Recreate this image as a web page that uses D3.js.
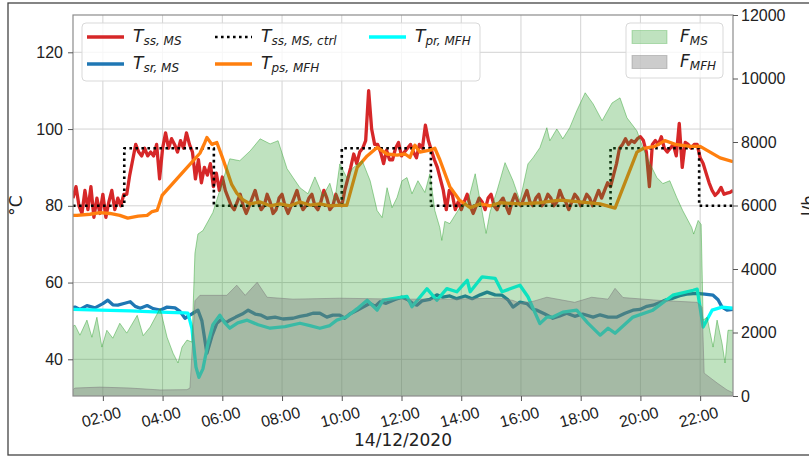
<!DOCTYPE html>
<html>
<head>
<meta charset="utf-8">
<script src="https://cdn.jsdelivr.net/npm/d3@7"></script>
<style>
  body { margin: 0; background: #fff; }
  svg { font-family: "DejaVu Sans", sans-serif; }
</style>
</head>
<body>
<div id="viz"></div>
<script>
// ---- data ----
const day = "2020-12-14";

// T_ss,MS : logged every 6 minutes from 01:00
const tssStart = "01:00";
const tssStepMin = 6;
const tssValues = [
  82, 85, 80, 78, 84, 79, 85, 77, 82, 78,
  83, 77, 81, 84, 79, 82, 80, 83, 83, 88,
  92, 96, 94, 93, 95, 93, 94, 93, 96, 87,
  95, 99, 95, 97.5, 96, 94, 97, 95, 99, 96,
  94, 87, 92, 86, 90, 88, 91, 85, 88.5, 84,
  87.5, 84, 82, 80, 79, 81, 83, 80, 78, 80,
  82, 84, 81, 79, 80, 83, 81, 78, 79, 82,
  83, 80, 78, 80, 82, 84, 81, 79, 80, 82,
  83, 80, 79, 81, 84, 82, 79, 80, 83, 81,
  80, 84, 87, 90, 93.5, 91, 94, 95, 97, 110,
  100, 96, 96, 94, 91, 94.5, 92, 92, 95, 96.5,
  93, 94, 95, 96, 94, 92.5, 96, 95, 101, 97,
  94.5, 92, 90, 87, 84, 79, 84, 83, 79, 81,
  79, 81, 83, 80, 78, 80, 82, 81, 79, 82,
  83, 80, 79, 81, 82, 80, 78, 81, 83, 81,
  80, 82, 84, 81, 80, 82, 83, 80, 81, 83,
  82, 80, 81, 84, 82, 81, 79, 81, 83, 82,
  80, 81, 83, 82, 80, 82, 84, 82, 84, 86,
  85, 88, 91, 95, 96, 97.5, 96, 97, 96.5, 97.5,
  98, 97, 94, 85, 96, 97, 96, 98, 95, 94,
  95, 96, 93, 101.5, 90, 96.5, 96, 95, 96, 96,
  92.5, 91, 88.5, 86, 84, 82.7, 83.5, 84.8, 83, 83.3,
  83.5, 84
];

// T_sr,MS
const tsrData = [
  ["01:00", 53.5], ["01:04", 53.6], ["01:14", 53.0], ["01:28", 54.0], ["01:44", 53.4],
  ["02:00", 54.5], ["02:10", 55.4], ["02:20", 54.2], ["02:30", 54.1], ["02:44", 54.6],
  ["02:55", 55.0], ["03:05", 53.8], ["03:15", 53.3], ["03:29", 54.0], ["03:41", 53.2],
  ["03:55", 52.8], ["04:09", 53.6], ["04:25", 53.4], ["04:35", 52.5], ["04:45", 50.7],
  ["04:55", 51.5], ["05:01", 52.0], ["05:11", 52.8], ["05:19", 50.0], ["05:29", 41.6],
  ["05:39", 46.0], ["05:49", 49.4], ["05:59", 50.5], ["06:07", 49.5], ["06:15", 50.2],
  ["06:27", 51.0], ["06:40", 51.8], ["06:52", 52.8], ["07:06", 51.8], ["07:18", 51.5],
  ["07:30", 50.7], ["07:46", 51.0], ["08:02", 50.5], ["08:22", 50.7], ["08:36", 51.2],
  ["08:50", 51.5], ["09:02", 52.0], ["09:16", 52.0], ["09:30", 51.0], ["09:42", 51.5],
  ["09:56", 51.5], ["10:06", 50.7], ["10:16", 51.8], ["10:31", 52.8], ["10:41", 53.5],
  ["10:57", 54.6], ["11:07", 53.8], ["11:17", 55.0], ["11:29", 54.6], ["11:47", 55.6],
  ["12:01", 56.2], ["12:13", 55.5], ["12:23", 54.5], ["12:31", 54.1], ["12:41", 55.2],
  ["12:57", 55.6], ["13:11", 56.8], ["13:23", 56.2], ["13:37", 56.5], ["13:51", 55.8],
  ["14:08", 56.5], ["14:22", 55.8], ["14:38", 56.8], ["14:52", 57.5], ["15:08", 56.8],
  ["15:22", 56.7], ["15:34", 55.5], ["15:44", 53.6], ["15:58", 54.9], ["16:12", 54.5],
  ["16:24", 53.0], ["16:32", 52.8], ["16:48", 51.8], ["17:04", 50.7], ["17:18", 51.3],
  ["17:32", 52.0], ["17:48", 51.2], ["18:04", 51.8], ["18:25", 51.0], ["18:39", 51.6],
  ["18:55", 51.0], ["19:13", 51.0], ["19:29", 52.0], ["19:45", 52.8], ["19:59", 53.0],
  ["20:13", 53.8], ["20:25", 54.1], ["20:39", 54.8], ["20:52", 55.5], ["21:05", 55.9],
  ["21:19", 56.6], ["21:33", 57.0], ["21:53", 57.2], ["22:09", 57.0], ["22:26", 56.7],
  ["22:36", 55.5], ["22:44", 53.6], ["22:54", 52.8], ["23:06", 53.0]
];

// T_ss,MS,ctrl (set point, steps)
const ctrlData = [
  ["01:00", 80], ["02:43", 95], ["05:43", 80], ["10:00", 95],
  ["12:59", 80], ["19:00", 95], ["21:58", 80], ["23:06", 80]
];

// T_ps,MFH
const tpsData = [
  ["01:00", 77.5], ["01:08", 77.5], ["01:34", 77.8], ["01:54", 78.2], ["02:14", 78.0],
  ["02:34", 77.5], ["02:50", 76.8], ["03:11", 77.3], ["03:29", 77.5], ["03:39", 78.5],
  ["03:49", 78.8], ["03:59", 82.7], ["04:39", 88.5], ["05:15", 93.7], ["05:25", 96.5],
  ["05:29", 97.8], ["05:39", 96.0], ["05:49", 96.5], ["05:59", 93.0], ["06:09", 89.3],
  ["06:19", 85.5], ["06:29", 83.3], ["06:42", 81.5], ["06:56", 80.5], ["07:16", 81.0],
  ["07:36", 80.0], ["07:56", 80.5], ["08:16", 80.0], ["08:36", 81.0], ["08:56", 80.2],
  ["09:16", 80.5], ["09:36", 80.0], ["09:56", 80.2], ["10:10", 80.1], ["10:31", 90.0],
  ["10:51", 93.0], ["11:11", 95.2], ["11:31", 93.5], ["11:51", 93.2], ["12:07", 93.5],
  ["12:17", 92.6], ["12:27", 95.8], ["12:37", 94.0], ["12:57", 94.5], ["13:07", 95.0],
  ["13:17", 92.0], ["13:37", 85.0], ["13:57", 81.4], ["14:18", 79.5], ["14:38", 80.5],
  ["14:58", 80.0], ["15:18", 80.8], ["15:58", 80.5], ["16:38", 80.8], ["17:18", 81.5],
  ["17:58", 81.0], ["18:39", 80.5], ["19:09", 79.4], ["19:53", 94.0], ["20:05", 94.9],
  ["20:29", 95.5], ["20:49", 97.0], ["21:10", 96.0], ["21:40", 95.5], ["22:00", 95.5],
  ["22:20", 94.0], ["22:40", 92.5], ["23:06", 91.5]
];

// T_pr,MFH
const tprData = [
  ["01:00", 53.0], ["01:54", 52.8], ["02:55", 52.6], ["03:55", 52.3], ["04:45", 52.1],
  ["04:51", 52.0], ["04:59", 48.0], ["05:07", 38.0], ["05:13", 35.3], ["05:21", 37.5],
  ["05:31", 44.0], ["05:41", 49.0], ["05:55", 51.5], ["06:05", 49.5], ["06:15", 48.1],
  ["06:31", 49.5], ["06:50", 50.2], ["07:12", 49.0], ["07:36", 48.1], ["08:06", 48.5],
  ["08:36", 49.4], ["08:56", 48.8], ["09:16", 48.1], ["09:36", 48.8], ["09:50", 50.2],
  ["10:10", 51.1], ["10:31", 53.2], ["10:51", 55.4], ["11:11", 52.8], ["11:23", 55.4],
  ["12:11", 56.4], ["12:21", 53.7], ["12:51", 58.4], ["13:11", 55.4], ["13:31", 58.4],
  ["13:51", 57.6], ["14:12", 60.6], ["14:18", 57.6], ["14:42", 61.5], ["15:08", 61.1],
  ["15:22", 57.6], ["15:58", 59.3], ["16:14", 56.3], ["16:38", 49.3], ["16:52", 51.0],
  ["17:04", 51.0], ["17:24", 52.3], ["17:52", 52.8], ["18:14", 49.5], ["18:39", 46.3],
  ["18:55", 48.1], ["19:09", 46.8], ["19:45", 51.0], ["20:25", 52.8], ["21:05", 56.7],
  ["21:46", 58.0], ["21:54", 58.3], ["22:06", 48.4], ["22:24", 52.8], ["22:44", 53.6],
  ["23:06", 53.3]
];

// F_MS (l/h)
const fmsData = [
  ["01:00", 2200], ["01:04", 2230], ["01:14", 1915], ["01:28", 2390], ["01:38", 1850],
  ["01:48", 2480], ["01:58", 1540], ["02:08", 2070], ["02:20", 1820], ["02:34", 2290],
  ["02:48", 1980], ["03:09", 2540], ["03:21", 1900], ["03:35", 2170], ["03:55", 2760],
  ["04:09", 1850], ["04:21", 1350], ["04:31", 1040], ["04:39", 1540], ["04:49", 1760],
  ["04:59", 1700], ["05:05", 4500], ["05:11", 5100], ["05:21", 5210], ["05:41", 5780],
  ["06:01", 6780], ["06:15", 7470], ["06:35", 7410], ["06:56", 7720], ["07:16", 8100],
  ["07:36", 7940], ["07:52", 8040], ["08:10", 7160], ["08:22", 6880], ["08:36", 6560],
  ["08:52", 6370], ["09:06", 6900], ["09:22", 6300], ["09:36", 6700], ["09:46", 6150],
  ["09:56", 7310], ["10:10", 6880], ["10:23", 7190], ["10:41", 7410], ["10:57", 6780],
  ["11:11", 5840], ["11:21", 5620], ["11:31", 6560], ["11:41", 5930], ["11:51", 6250],
  ["12:01", 6780], ["12:11", 6880], ["12:21", 6370], ["12:33", 6780], ["12:47", 6410],
  ["12:57", 7000], ["13:07", 5840], ["13:17", 5300], ["13:21", 4900], ["13:27", 5500],
  ["13:37", 5430], ["13:57", 5930], ["14:14", 6150], ["14:28", 7000], ["14:38", 6150],
  ["14:50", 5120], ["14:58", 5800], ["15:12", 6470], ["15:28", 7350], ["15:44", 6780],
  ["15:58", 6150], ["16:14", 7310], ["16:24", 7500], ["16:38", 7820], ["16:52", 8450],
  ["16:58", 8040], ["17:12", 8410], ["17:18", 8260], ["17:24", 8100], ["17:38", 8450],
  ["17:52", 8980], ["18:09", 9550], ["18:25", 9200], ["18:43", 8670], ["19:03", 9230],
  ["19:19", 9390], ["19:33", 8760], ["19:53", 8350], ["20:05", 7820], ["20:19", 7320],
  ["20:33", 6880], ["20:45", 6690], ["20:59", 6780], ["21:13", 6250], ["21:25", 5840],
  ["21:43", 5310], ["21:47", 5100], ["21:56", 5530], ["22:02", 5400], ["22:06", 2390],
  ["22:14", 2480], ["22:20", 2000], ["22:26", 1540], ["22:34", 2390], ["22:44", 1660],
  ["22:50", 1040], ["22:56", 2070], ["23:06", 2070]
];

// F_MFH (l/h)
const fmfhData = [
  ["01:00", 200], ["01:04", 250], ["01:54", 280], ["02:55", 250], ["03:55", 190],
  ["04:49", 200], ["04:55", 250], ["05:05", 3000], ["05:15", 3170], ["06:09", 3170],
  ["06:29", 3490], ["06:46", 3170], ["07:10", 3580], ["07:30", 3110], ["08:22", 3050],
  ["09:56", 3080], ["11:57", 3050], ["13:37", 3050], ["15:18", 3080], ["15:44", 3010],
  ["15:58", 2920], ["16:24", 2980], ["16:52", 3110], ["17:48", 2950], ["18:22", 3110],
  ["18:55", 3050], ["19:09", 3390], ["19:25", 3100], ["20:39", 3010], ["21:54", 2950],
  ["22:04", 2790], ["22:08", 720], ["22:34", 410], ["22:54", 190], ["23:06", 100]
];

const xTicks = ["02:00", "04:00", "06:00", "08:00", "10:00", "12:00",
                "14:00", "16:00", "18:00", "20:00", "22:00"];
const tempTicks = [40, 60, 80, 100, 120];
const flowTicks = [0, 2000, 4000, 6000, 8000, 10000, 12000];
const xDomain = ["01:00", "23:06"];
const tempDomain = [30.44, 129.72];
const flowDomain = [0, 12000];

// ---- chart ----
const W = 809, H = 458;
const margin = {top: 15, right: 76, bottom: 62, left: 73},
  width = W - margin.left - margin.right,
  height = H - margin.top - margin.bottom;

const parseTime = d3.timeParse("%Y-%m-%d %H:%M");
const t = s => parseTime(day + " " + s);

const tssStartDate = t(tssStart);
const tssData = tssValues.map((v, i) => [d3.timeMinute.offset(tssStartDate, i * tssStepMin), v]);
const asDates = arr => arr.map(d => [t(d[0]), d[1]]);

const svg = d3.select("#viz").append("svg")
  .attr("width", W).attr("height", H);

// outer frame of the picture
svg.append("rect")
  .attr("x", 8).attr("y", 3).attr("width", 900).attr("height", 452)
  .attr("fill", "none").attr("stroke", "#444").attr("stroke-width", 1.3);

const g = svg.append("g").attr("transform", `translate(${margin.left},${margin.top})`);

g.append("clipPath").attr("id", "clip")
  .append("rect").attr("width", width).attr("height", height);

const x = d3.scaleTime().domain(xDomain.map(t)).range([0, width]);
const yL = d3.scaleLinear().domain(tempDomain).range([height, 0]);
const yR = d3.scaleLinear().domain(flowDomain).range([height, 0]);

// grid
const grid = g.append("g").attr("stroke", "#d3d3d3").attr("stroke-width", 1);
grid.selectAll("line.v").data(xTicks).enter().append("line")
  .attr("x1", d => x(t(d))).attr("x2", d => x(t(d)))
  .attr("y1", 0).attr("y2", height);
grid.selectAll("line.h").data(tempTicks).enter().append("line")
  .attr("x1", 0).attr("x2", width)
  .attr("y1", d => yL(d)).attr("y2", d => yL(d));

// temperature lines
const plot = g.append("g").attr("clip-path", "url(#clip)");
const line = d3.line().x(d => x(d[0])).y(d => yL(d[1]));

const series = [
  {data: tssData, color: "#d62728", width: 3.3, dash: null},
  {data: asDates(tsrData), color: "#1f77b4", width: 3.3, dash: null},
  {data: asDates(ctrlData), color: "#000", width: 2.6, dash: "2.6,3.4", step: true},
  {data: asDates(tpsData), color: "#ff7f0e", width: 3.3, dash: null},
  {data: asDates(tprData), color: "#00ffff", width: 3.3, dash: null}
];
series.forEach(s => {
  const gen = s.step ? d3.line().x(d => x(d[0])).y(d => yL(d[1])).curve(d3.curveStepAfter) : line;
  plot.append("path")
    .datum(s.data)
    .attr("fill", "none")
    .attr("stroke", s.color)
    .attr("stroke-width", s.width)
    .attr("stroke-linejoin", "round")
    .attr("stroke-dasharray", s.dash)
    .attr("d", gen);
});

// flow areas (twin axis, drawn on top)
const area = d3.area().x(d => x(d[0])).y0(height).y1(d => yR(d[1]));
const topLine = d3.line().x(d => x(d[0])).y(d => yR(d[1]));
[[fmsData, "#2ca02c", 0.3], [fmfhData, "#808080", 0.4]].forEach(([arr, col, op]) => {
  const dd = asDates(arr);
  plot.append("path").datum(dd)
    .attr("fill", col).attr("fill-opacity", op).attr("d", area);
  plot.append("path").datum(dd)
    .attr("fill", "none").attr("stroke", col).attr("stroke-opacity", op + 0.15)
    .attr("stroke-width", 1).attr("d", topLine);
});

// spines
g.append("rect").attr("width", width).attr("height", height)
  .attr("fill", "none").attr("stroke", "#8c8c8c").attr("stroke-width", 1.2);

// axes
const styleAxis = sel => {
  sel.select(".domain").remove();
  sel.selectAll(".tick line").attr("stroke", "#555");
  sel.selectAll("text").attr("fill", "#222").style("font-size", "16px");
};

const xAxis = g.append("g")
  .attr("transform", `translate(0,${height})`)
  .call(d3.axisBottom(x).tickValues(xTicks.map(t)).tickFormat(d3.timeFormat("%H:%M")).tickSize(5));
styleAxis(xAxis);
xAxis.selectAll("text")
  .attr("y", 0).attr("dy", null)
  .attr("dominant-baseline", "central")
  .attr("transform", "translate(-2,21) rotate(-15)")
  .style("text-anchor", "middle");

const yAxisL = g.append("g")
  .call(d3.axisLeft(yL).tickValues(tempTicks).tickSize(5).tickPadding(5));
styleAxis(yAxisL);

const yAxisR = g.append("g")
  .attr("transform", `translate(${width},0)`)
  .call(d3.axisRight(yR).tickValues(flowTicks).tickFormat(d3.format("d")).tickSize(5).tickPadding(3));
styleAxis(yAxisR);

// axis labels
svg.append("text")
  .attr("transform", `translate(${margin.left + width / 2},446)`)
  .attr("text-anchor", "middle").attr("fill", "#222").style("font-size", "17px")
  .text("14/12/2020");
svg.append("text")
  .attr("transform", `translate(22,${margin.top + height / 2}) rotate(-90)`)
  .attr("text-anchor", "middle").attr("fill", "#222").style("font-size", "17px")
  .text("°C");
// the reference crops this label at the right edge
svg.append("text")
  .attr("transform", `translate(815,${margin.top + height / 2}) rotate(-90)`)
  .attr("text-anchor", "middle").attr("fill", "#222").style("font-size", "17px")
  .text("l/h");

// legends
function mathLabel(parent, lx, ly, main, sub) {
  const tx = parent.append("text")
    .attr("x", lx).attr("y", ly).attr("dominant-baseline", "central")
    .attr("fill", "#222").style("font-style", "italic");
  tx.append("tspan").style("font-size", "17px").text(main);
  tx.append("tspan").attr("dy", 5).style("font-size", "12px").text(sub);
}

const leg1 = svg.append("g");
leg1.append("rect")
  .attr("x", 82).attr("y", 23).attr("width", 398).attr("height", 58).attr("rx", 4)
  .attr("fill", "#fff").attr("fill-opacity", 0.8)
  .attr("stroke", "#d9d9d9");
const leg1Items = [
  {col: 0, row: 0, s: 0, main: "T", sub: "ss, MS"},
  {col: 0, row: 1, s: 1, main: "T", sub: "sr, MS"},
  {col: 1, row: 0, s: 2, main: "T", sub: "ss, MS, ctrl"},
  {col: 1, row: 1, s: 3, main: "T", sub: "ps, MFH"},
  {col: 2, row: 0, s: 4, main: "T", sub: "pr, MFH"}
];
const colX = [87, 215, 369];
const rowY = [37, 64];
leg1Items.forEach(it => {
  const s = series[it.s];
  const lx = colX[it.col], ly = rowY[it.row];
  leg1.append("line")
    .attr("x1", lx).attr("x2", lx + 37).attr("y1", ly).attr("y2", ly)
    .attr("stroke", s.color).attr("stroke-width", s.width)
    .attr("stroke-dasharray", s.dash);
  mathLabel(leg1, lx + 46, ly - 1, it.main, it.sub);
});

const leg2 = svg.append("g");
leg2.append("rect")
  .attr("x", 626).attr("y", 23).attr("width", 97).attr("height", 55).attr("rx", 4)
  .attr("fill", "#fff").attr("fill-opacity", 0.8)
  .attr("stroke", "#d9d9d9");
[["MS", "#2ca02c", 0.3, 37], ["MFH", "#808080", 0.4, 62]].forEach(([sub, col, op, ly]) => {
  leg2.append("rect")
    .attr("x", 632).attr("y", ly - 6.5).attr("width", 35).attr("height", 13)
    .attr("fill", col).attr("fill-opacity", op)
    .attr("stroke", col).attr("stroke-opacity", op);
  mathLabel(leg2, 680, ly - 1, "F", sub);
});
</script>
</body>
</html>
